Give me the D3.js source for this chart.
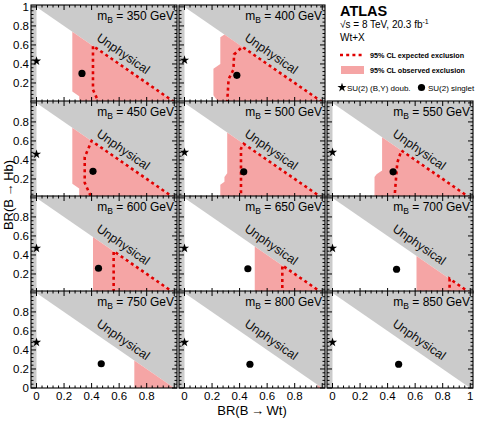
<!DOCTYPE html>
<html>
<head>
<meta charset="utf-8">
<script src="https://cdn.jsdelivr.net/npm/d3@7/dist/d3.min.js"></script>
<style>
    body { margin: 0; background: #ffffff; }
    svg { font-family: "Liberation Sans", Arial, Helvetica, sans-serif; }
</style>
</head>
<body>
<div id="chart"></div>
<script>

//----- Daten ----------------------------------------------------------------------------------//

var masses = [350, 400, 450, 500, 550, 600, 650, 700, 750, 800, 850];

// SU(2) singlet (BR(B->Wt), BR(B->Hb))
var singletWt = [0.33, 0.38, 0.41, 0.43, 0.44, 0.45, 0.46, 0.465, 0.47, 0.475, 0.48];
var singletHb = [0.30, 0.28, 0.28, 0.275, 0.275, 0.26, 0.255, 0.25, 0.255, 0.25, 0.25];

// SU(2) (B,Y) doublet
var doubletWt = [0, 0, 0, 0, 0, 0, 0, 0, 0, 0, 0];
var doubletHb = [0.43, 0.44, 0.46, 0.48, 0.48, 0.47, 0.47, 0.47, 0.48, 0.48, 0.48];

// 95% CL observed exclusion (Polygon, schliesst ueber die Diagonale)
var observedLimit = [
    [[0.26, 0.74], [0.26, 0.11], [0.31, 0.06], [0.31, 0], [1, 0]],
    [[0.29, 0.71], [0.26, 0.68], [0.26, 0.40], [0.21, 0.35], [0.21, 0.07], [0.245, 0], [1, 0]],
    [[0.26, 0.74], [0.26, 0.15], [0.31, 0.10], [0.31, 0], [1, 0]],
    [[0.31, 0.69], [0.31, 0.26], [0.29, 0.22], [0.29, 0.17], [0.26, 0.14], [0.26, 0], [1, 0]],
    [[0.36, 0.64], [0.36, 0.29], [0.32, 0.25], [0.305, 0.22], [0.305, 0], [1, 0]],
    [[0.41, 0.59], [0.41, 0], [1, 0]],
    [[0.51, 0.49], [0.51, 0], [1, 0]],
    [[0.61, 0.39], [0.61, 0], [1, 0]],
    [[0.71, 0.29], [0.71, 0], [1, 0]],
    [[0.965, 0.035], [0.965, 0], [1, 0]],
    []
];

// 95% CL expected exclusion (Linie)
var expectedLimit = [
    [[1, 0], [0.41, 0.59], [0.41, 0.13], [0.45, 0]],
    [[1, 0], [0.42, 0.58], [0.36, 0.50], [0.355, 0.34], [0.32, 0.24], [0.31, 0]],
    [[1, 0], [0.40, 0.60], [0.35, 0.43], [0.35, 0.16], [0.40, 0]],
    [[1, 0], [0.43, 0.57], [0.41, 0.52], [0.41, 0]],
    [[1, 0], [0.50, 0.50], [0.47, 0.37], [0.45, 0]],
    [[1, 0], [0.56, 0.44], [0.56, 0]],
    [[1, 0], [0.71, 0.29], [0.71, 0]],
    [[1, 0], [0.85, 0.15], [0.85, 0]],
    [],
    [],
    []
];

var tickValues = [0, 0.2, 0.4, 0.6, 0.8, 1];
var tickLabels = ['0', '0.2', '0.4', '0.6', '0.8', '1'];


//----- Layout ---------------------------------------------------------------------------------//

var width = 480;
var height = 423;

var colLeft = [31, 179, 327];
var colWidth = 146;
var rowBottom = [102, 198, 293, 388];
var rowHeight = 97;

var xDomain = [-0.04, 1.02];
var yDomain = [0, 1.02];

var grey = '#cbcbcb';
var pink = '#f5a5a5';
var red = '#e00000';

var svg = d3.select('#chart').append('svg')
    .attr('width', width)
    .attr('height', height);


//----- Ein Panel zeichnen -----------------------------------------------------------------------//

function drawPanel(_i) {

    var slot = _i < 2 ? _i : _i + 1;
    var row = Math.floor(slot / 3);
    var col = slot % 3;

    var left = colLeft[col];
    var bottom = rowBottom[row];

    var x = d3.scaleLinear().domain(xDomain).range([left, left + colWidth]);
    var y = d3.scaleLinear().domain(yDomain).range([bottom, bottom - rowHeight]);

    var g = svg.append('g').attr('id', 'panel' + masses[_i]);

    g.append('clipPath')
        .attr('id', 'clip' + _i)
        .append('rect')
        .attr('x', x(xDomain[0]))
        .attr('y', y(yDomain[1]))
        .attr('width', x(xDomain[1]) - x(xDomain[0]))
        .attr('height', y(yDomain[0]) - y(yDomain[1]));

    var inner = g.append('g').attr('clip-path', 'url(#clip' + _i + ')');

    // unphysikalischer Bereich = alles ausser dem Dreieck
    inner.append('rect')
        .attr('x', x(xDomain[0]))
        .attr('y', y(yDomain[1]))
        .attr('width', x(xDomain[1]) - x(xDomain[0]))
        .attr('height', y(yDomain[0]) - y(yDomain[1]))
        .attr('fill', grey);

    var line = d3.line().x(function (d) { return x(d[0]); }).y(function (d) { return y(d[1]); });

    inner.append('path')
        .attr('d', line([[0, 0], [0, 1], [1, 0]]) + 'Z')
        .attr('fill', '#ffffff');

    if (observedLimit[_i].length > 0) {
        inner.append('path')
            .attr('d', line(observedLimit[_i]) + 'Z')
            .attr('fill', pink);
    }

    if (expectedLimit[_i].length > 0) {
        inner.append('path')
            .attr('d', line(expectedLimit[_i]))
            .attr('fill', 'none')
            .attr('stroke', red)
            .attr('stroke-width', 2.6)
            .attr('stroke-dasharray', '3,3.2');
    }

    // Unphysical Text
    var angle = Math.atan((y(0) - y(1)) / (x(1) - x(0))) * 180 / Math.PI;
    inner.append('text')
        .attr('transform', 'translate(' + x(0.63) + ',' + y(0.51) + ') rotate(' + angle + ')')
        .attr('text-anchor', 'middle')
        .attr('dy', '0.35em')
        .style('font-size', '12.5px')
        .attr('fill', '#111111')
        .text('Unphysical');

    // Marker
    inner.append('path')
        .attr('d', d3.symbol().type(d3.symbolStar).size(26)())
        .attr('transform', 'translate(' + x(doubletWt[_i]) + ',' + y(doubletHb[_i]) + ')')
        .attr('fill', '#000000');

    inner.append('circle')
        .attr('cx', x(singletWt[_i]))
        .attr('cy', y(singletHb[_i]))
        .attr('r', 3.6)
        .attr('fill', '#000000');

    // Masse
    var label = g.append('text')
        .attr('x', x(xDomain[1]) - 3)
        .attr('y', y(yDomain[1]) + 15)
        .attr('text-anchor', 'end')
        .style('font-size', '12px')
        .attr('fill', '#000000');
    label.append('tspan').text('m');
    label.append('tspan').attr('dy', 3).style('font-size', '8.5px').text('B');
    label.append('tspan').attr('dy', -3).text(' = ' + masses[_i] + ' GeV');

    // Rahmen und Ticks
    g.append('rect')
        .attr('x', x(xDomain[0]))
        .attr('y', y(yDomain[1]))
        .attr('width', x(xDomain[1]) - x(xDomain[0]))
        .attr('height', y(yDomain[0]) - y(yDomain[1]))
        .attr('fill', 'none')
        .attr('stroke', '#000000')
        .attr('stroke-width', 1.1);

    var minor = d3.range(0, 26).map(function (k) { return k * 0.04; })
        .filter(function (v) { return v >= xDomain[0] && v <= xDomain[1]; });

    minor.forEach(function (v) {
        var isMajor = Math.abs(v * 5 - Math.round(v * 5)) < 1e-6;
        var len = isMajor ? 5 : 2.5;
        // x ticks unten und oben
        g.append('line').attr('x1', x(v)).attr('x2', x(v))
            .attr('y1', y(yDomain[0])).attr('y2', y(yDomain[0]) - len)
            .attr('stroke', '#000000');
        g.append('line').attr('x1', x(v)).attr('x2', x(v))
            .attr('y1', y(yDomain[1])).attr('y2', y(yDomain[1]) + len)
            .attr('stroke', '#000000');
        // y ticks links und rechts
        g.append('line').attr('y1', y(v)).attr('y2', y(v))
            .attr('x1', x(xDomain[0])).attr('x2', x(xDomain[0]) + len)
            .attr('stroke', '#000000');
        g.append('line').attr('y1', y(v)).attr('y2', y(v))
            .attr('x1', x(xDomain[1])).attr('x2', x(xDomain[1]) - len)
            .attr('stroke', '#000000');
    });

    // Beschriftung links
    if (col === 0) {
        tickValues.forEach(function (v, k) {
            if (v === 0 && row !== 3) { return; }
            if (v === 1 && row !== 0) { return; }
            g.append('text')
                .attr('x', left - 2)
                .attr('y', y(v))
                .attr('dy', '0.35em')
                .attr('text-anchor', 'end')
                .style('font-size', '11.5px')
                .text(tickLabels[k]);
        });
    }

    // Beschriftung unten
    if (row === 3) {
        tickValues.forEach(function (v, k) {
            if (v === 1 && col !== 2) { return; }
            g.append('text')
                .attr('x', x(v))
                .attr('y', bottom + 12)
                .attr('text-anchor', 'middle')
                .style('font-size', '11.5px')
                .text(tickLabels[k]);
        });
    }
}

masses.forEach(function (m, i) {
    drawPanel(i);
});


//----- Achsentitel ---------------------------------------------------------------------------------//

svg.append('text')
    .attr('transform', 'translate(13,195) rotate(-90)')
    .attr('text-anchor', 'middle')
    .style('font-size', '13px')
    .text('BR(B\u2009\u2192\u2009Hb)');

svg.append('text')
    .attr('x', 252)
    .attr('y', 415)
    .attr('text-anchor', 'middle')
    .style('font-size', '13px')
    .text('BR(B\u2009\u2192\u2009Wt)');


//----- Legende --------------------------------------------------------------------------------------//

var leg = svg.append('g').attr('id', 'legend');

leg.append('text')
    .attr('x', 340).attr('y', 16)
    .style('font-size', '14.5px')
    .style('font-weight', 'bold')
    .text('ATLAS');

var lumi = leg.append('text')
    .attr('x', 340).attr('y', 28)
    .style('font-size', '10px');
lumi.append('tspan').text('\u221As = 8 TeV,  20.3 fb');
lumi.append('tspan').attr('dy', -4).style('font-size', '7px').text('-1');

leg.append('text')
    .attr('x', 340).attr('y', 41)
    .style('font-size', '10px')
    .text('Wt+X');

leg.append('line')
    .attr('x1', 340).attr('x2', 364)
    .attr('y1', 55).attr('y2', 55)
    .attr('stroke', red)
    .attr('stroke-width', 2.6)
    .attr('stroke-dasharray', '3,3.2');

leg.append('text')
    .attr('x', 370).attr('y', 58)
    .style('font-size', '7.2px')
    .style('font-weight', 'bold')
    .text('95% CL expected exclusion');

leg.append('rect')
    .attr('x', 341).attr('y', 66)
    .attr('width', 23).attr('height', 8)
    .attr('fill', pink);

leg.append('text')
    .attr('x', 370).attr('y', 73)
    .style('font-size', '7.2px')
    .style('font-weight', 'bold')
    .text('95% CL observed exclusion');

leg.append('path')
    .attr('d', d3.symbol().type(d3.symbolStar).size(26)())
    .attr('transform', 'translate(342,87.5)');

leg.append('text')
    .attr('x', 347).attr('y', 90.5)
    .style('font-size', '8px')
    .text('SU(2) (B,Y) doub.');

leg.append('circle')
    .attr('cx', 421.5).attr('cy', 87.5)
    .attr('r', 3.6);

leg.append('text')
    .attr('x', 428).attr('y', 90.5)
    .style('font-size', '8px')
    .text('SU(2) singlet');

</script>
</body>
</html>
